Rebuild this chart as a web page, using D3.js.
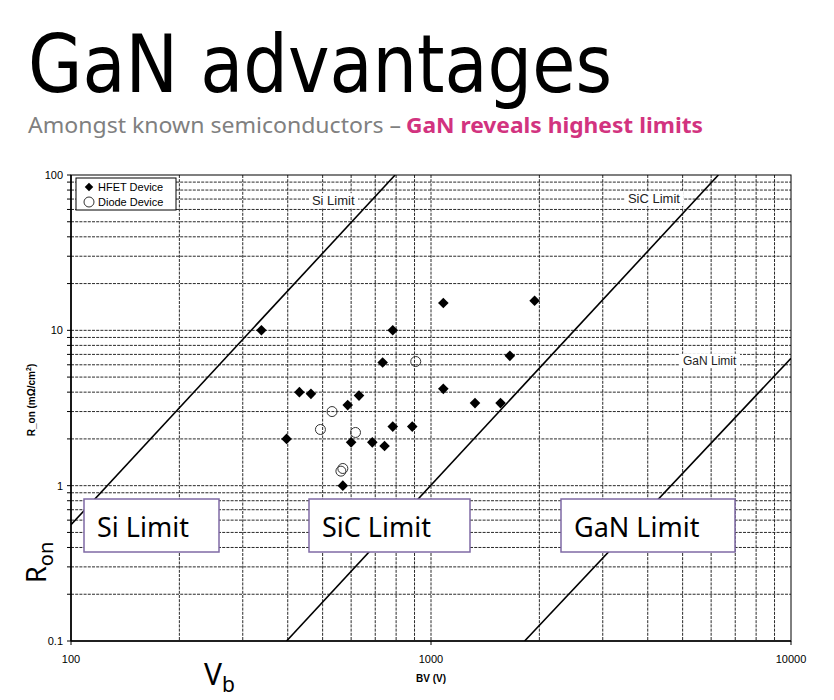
<!DOCTYPE html>
<html>
<head>
  <meta charset="UTF-8">
  <style>
    body { margin: 0; background: #ffffff; }
    svg { display: block; }
  </style>
</head>
<body>
<svg></svg>
<script src="https://d3js.org/d3.v7.min.js"></script>
<script>
let width = 834, height = 700;

// HFET devices (BV in V, R_on in mOhm.cm2)
const hfetBV  = [338, 783, 734, 431, 464, 631, 587, 783, 887, 397, 600, 687, 743, 569, 1082, 1940, 1656, 1082, 1325, 1560];
const hfetRon = [10, 10, 6.2, 4.0, 3.9, 3.8, 3.3, 2.4, 2.4, 2.0, 1.9, 1.9, 1.8, 1.0, 15, 15.5, 6.85, 4.2, 3.4, 3.4];

// Diode devices
const diodeBV  = [907, 531, 493, 617, 569, 562];
const diodeRon = [6.3, 3.0, 2.3, 2.2, 1.29, 1.24];

// material limit lines, two end points each [BV, R_on]
const limitNames = ["Si Limit", "SiC Limit", "GaN Limit"];
const limitLines = [
  [[100, 0.56], [795, 100]],
  [[397, 0.1], [6285, 100]],
  [[1820, 0.1], [10000, 6.6]]
];

const xTicks = [100, 1000, 10000];
const yTicks = [0.1, 1, 10, 100];

let svg = d3.select("svg")
  .attr("width", width)
  .attr("height", height);

let x = d3.scaleLog().domain([100, 10000]).range([71, 791]);
let y = d3.scaleLog().domain([0.1, 100]).range([641, 175]);

// title + subtitle
svg.append("text")
  .attr("x", 28).attr("y", 92)
  .attr("textLength", 584).attr("lengthAdjust", "spacingAndGlyphs")
  .style("font-family", "DejaVu Sans")
  .style("font-size", "80px")
  .text("GaN advantages");

svg.append("text")
  .attr("x", 28).attr("y", 133)
  .attr("textLength", 373).attr("lengthAdjust", "spacingAndGlyphs")
  .style("font-family", "Noto Sans")
  .style("font-size", "21px")
  .attr("fill", "#808080")
  .text("Amongst known semiconductors –");

svg.append("text")
  .attr("x", 406).attr("y", 133)
  .attr("textLength", 297).attr("lengthAdjust", "spacingAndGlyphs")
  .style("font-family", "Noto Sans")
  .style("font-size", "21px")
  .style("font-weight", "bold")
  .attr("fill", "#d2337f")
  .text("GaN reveals highest limits");

// grid values: 1..9 per decade
function logGrid(lo, hi) {
  let out = [];
  for (let d = lo; d < hi; d *= 10) {
    for (let k = 1; k < 10; k++) out.push(d * k);
  }
  out.push(hi);
  return out;
}
let xGrid = logGrid(100, 10000);
let yGrid = logGrid(0.1, 100);

let grid = svg.append("g").attr("id", "grid");
grid.selectAll("line.v")
  .data(xGrid.slice(1, -1))
  .enter().append("line")
  .attr("class", "v")
  .attr("x1", d => x(d)).attr("x2", d => x(d))
  .attr("y1", y(100)).attr("y2", y(0.1))
  .attr("stroke", "#2a2a2a").attr("stroke-width", 1)
  .attr("stroke-dasharray", "3,1.2");

grid.selectAll("line.h")
  .data(yGrid.slice(1, -1))
  .enter().append("line")
  .attr("class", "h")
  .attr("x1", x(100)).attr("x2", x(10000))
  .attr("y1", d => y(d)).attr("y2", d => y(d))
  .attr("stroke", "#2a2a2a").attr("stroke-width", 1)
  .attr("stroke-dasharray", "3,1.2");

// frame
svg.append("rect")
  .attr("x", x(100)).attr("y", y(100))
  .attr("width", x(10000) - x(100)).attr("height", y(0.1) - y(100))
  .attr("fill", "none").attr("stroke", "#000").attr("stroke-width", 1);

// clip for limit lines
svg.append("clipPath").attr("id", "plotclip")
  .append("rect")
  .attr("x", x(100)).attr("y", y(100))
  .attr("width", x(10000) - x(100)).attr("height", y(0.1) - y(100));

// small in-chart limit labels with white background (drawn under the lines)
const smallLabels = [
  { name: limitNames[0], bv: 467, ron: 64, size: 13 },
  { name: limitNames[1], bv: 3524, ron: 66, size: 13 },
  { name: limitNames[2], bv: 5012, ron: 6.0, size: 12 }
];
smallLabels.forEach(l => {
  let g = svg.append("g");
  let t = g.append("text")
    .attr("x", x(l.bv)).attr("y", y(l.ron))
    .style("font-family", "Liberation Sans, Arial")
    .style("font-size", l.size + "px")
    .attr("fill", "#222")
    .text(l.name);
  let b = t.node().getBBox();
  g.insert("rect", "text")
    .attr("x", b.x - 3).attr("y", b.y)
    .attr("width", b.width + 6).attr("height", b.height)
    .attr("fill", "#fff");
});

let line = d3.line().x(d => x(d[0])).y(d => y(d[1]));
svg.append("g").attr("clip-path", "url(#plotclip)")
  .selectAll("path")
  .data(limitLines)
  .enter().append("path")
  .attr("d", line)
  .attr("fill", "none")
  .attr("stroke", "#000")
  .attr("stroke-width", 1.6);

// axes lines
svg.append("line")
  .attr("x1", x(100)).attr("x2", x(100)).attr("y1", y(100)).attr("y2", y(0.1))
  .attr("stroke", "#000").attr("stroke-width", 1.6);
svg.append("line")
  .attr("x1", x(100)).attr("x2", x(10000)).attr("y1", y(0.1)).attr("y2", y(0.1))
  .attr("stroke", "#000").attr("stroke-width", 1.6);

// y ticks (major + minor)
svg.selectAll("line.ytick")
  .data(yGrid)
  .enter().append("line")
  .attr("class", "ytick")
  .attr("x1", x(100) - 4).attr("x2", x(100))
  .attr("y1", d => y(d)).attr("y2", d => y(d))
  .attr("stroke", "#000").attr("stroke-width", 1);

svg.selectAll("line.xtick")
  .data(xTicks)
  .enter().append("line")
  .attr("class", "xtick")
  .attr("x1", d => x(d)).attr("x2", d => x(d))
  .attr("y1", y(0.1)).attr("y2", y(0.1) + 4)
  .attr("stroke", "#000").attr("stroke-width", 1);

svg.selectAll("text.ylab")
  .data(yTicks)
  .enter().append("text")
  .attr("class", "ylab")
  .attr("x", x(100) - 8).attr("y", d => y(d) + 4)
  .attr("text-anchor", "end")
  .style("font-family", "Liberation Sans, Arial")
  .style("font-size", "11px")
  .text(d => d);

svg.selectAll("text.xlab")
  .data(xTicks)
  .enter().append("text")
  .attr("class", "xlab")
  .attr("x", d => x(d)).attr("y", y(0.1) + 22)
  .attr("text-anchor", "middle")
  .style("font-family", "Liberation Sans, Arial")
  .style("font-size", "11px")
  .text(d => d);

// axis titles
svg.append("text")
  .attr("x", x(1000)).attr("y", 682)
  .attr("text-anchor", "middle")
  .style("font-family", "Liberation Sans, Arial")
  .style("font-size", "10px").style("font-weight", "bold")
  .text("BV (V)");

let yt = svg.append("text")
  .attr("transform", "translate(35,400) rotate(-90)")
  .attr("text-anchor", "middle")
  .style("font-family", "Liberation Sans, Arial")
  .style("font-size", "10px").style("font-weight", "bold");
yt.append("tspan").text("R_on (m\u03A9/cm");
yt.append("tspan").attr("dy", -4).style("font-size", "7px").text("2");
yt.append("tspan").attr("dy", 4).text(")");

// data points
let diamond = d3.symbol().type(d3.symbolSquare).size(56);
svg.append("g").selectAll("path")
  .data(hfetBV.map((bv, i) => [bv, hfetRon[i]]))
  .enter().append("path")
  .attr("d", diamond)
  .attr("transform", d => `translate(${x(d[0])},${y(d[1])}) rotate(45)`)
  .attr("fill", "#000");

svg.append("g").selectAll("circle")
  .data(diodeBV.map((bv, i) => [bv, diodeRon[i]]))
  .enter().append("circle")
  .attr("cx", d => x(d[0])).attr("cy", d => y(d[1]))
  .attr("r", 5)
  .attr("fill", "none")
  .attr("stroke", "#333").attr("stroke-width", 1);

// legend
let legend = svg.append("g").attr("id", "legend");
legend.append("rect")
  .attr("x", 76).attr("y", 178).attr("width", 100).attr("height", 32)
  .attr("fill", "#fff").attr("stroke", "#000").attr("stroke-width", 1);
legend.append("path")
  .attr("d", d3.symbol().type(d3.symbolSquare).size(36))
  .attr("transform", "translate(89,187) rotate(45)");
legend.append("circle")
  .attr("cx", 89).attr("cy", 202).attr("r", 5)
  .attr("fill", "none").attr("stroke", "#333");
legend.selectAll("text")
  .data(["HFET Device", "Diode Device"])
  .enter().append("text")
  .attr("x", 98).attr("y", (d, i) => 191 + i * 15)
  .style("font-family", "Liberation Sans, Arial")
  .style("font-size", "11px")
  .text(d => d);

// big overlay boxes
const boxes = [
  { name: limitNames[0], x0: 84, x1: 219 },
  { name: limitNames[1], x0: 309, x1: 470 },
  { name: limitNames[2], x0: 561, x1: 735 }
];
boxes.forEach(b => {
  svg.append("rect")
    .attr("x", b.x0).attr("y", 499).attr("width", b.x1 - b.x0).attr("height", 53)
    .attr("fill", "#fff").attr("stroke", "#7f6aa5").attr("stroke-width", 1.5);
  svg.append("text")
    .attr("x", b.x0 + 13).attr("y", 537)
    .style("font-family", "Noto Sans")
    .style("font-size", "27px")
    .text(b.name);
});

// big R_on and V_b annotations
let ron = svg.append("text")
  .attr("transform", "translate(46,583) rotate(-90)")
  .style("font-family", "Noto Sans")
  .style("font-size", "27px");
ron.append("tspan").text("R");
ron.append("tspan").attr("dy", 7).style("font-size", "20px").text("on");

let vb = svg.append("text")
  .attr("x", 204).attr("y", 685)
  .style("font-family", "Noto Sans")
  .style("font-size", "30px");
vb.append("tspan").text("V");
vb.append("tspan").attr("dy", 7).style("font-size", "21px").text("b");
</script>
</body>
</html>
